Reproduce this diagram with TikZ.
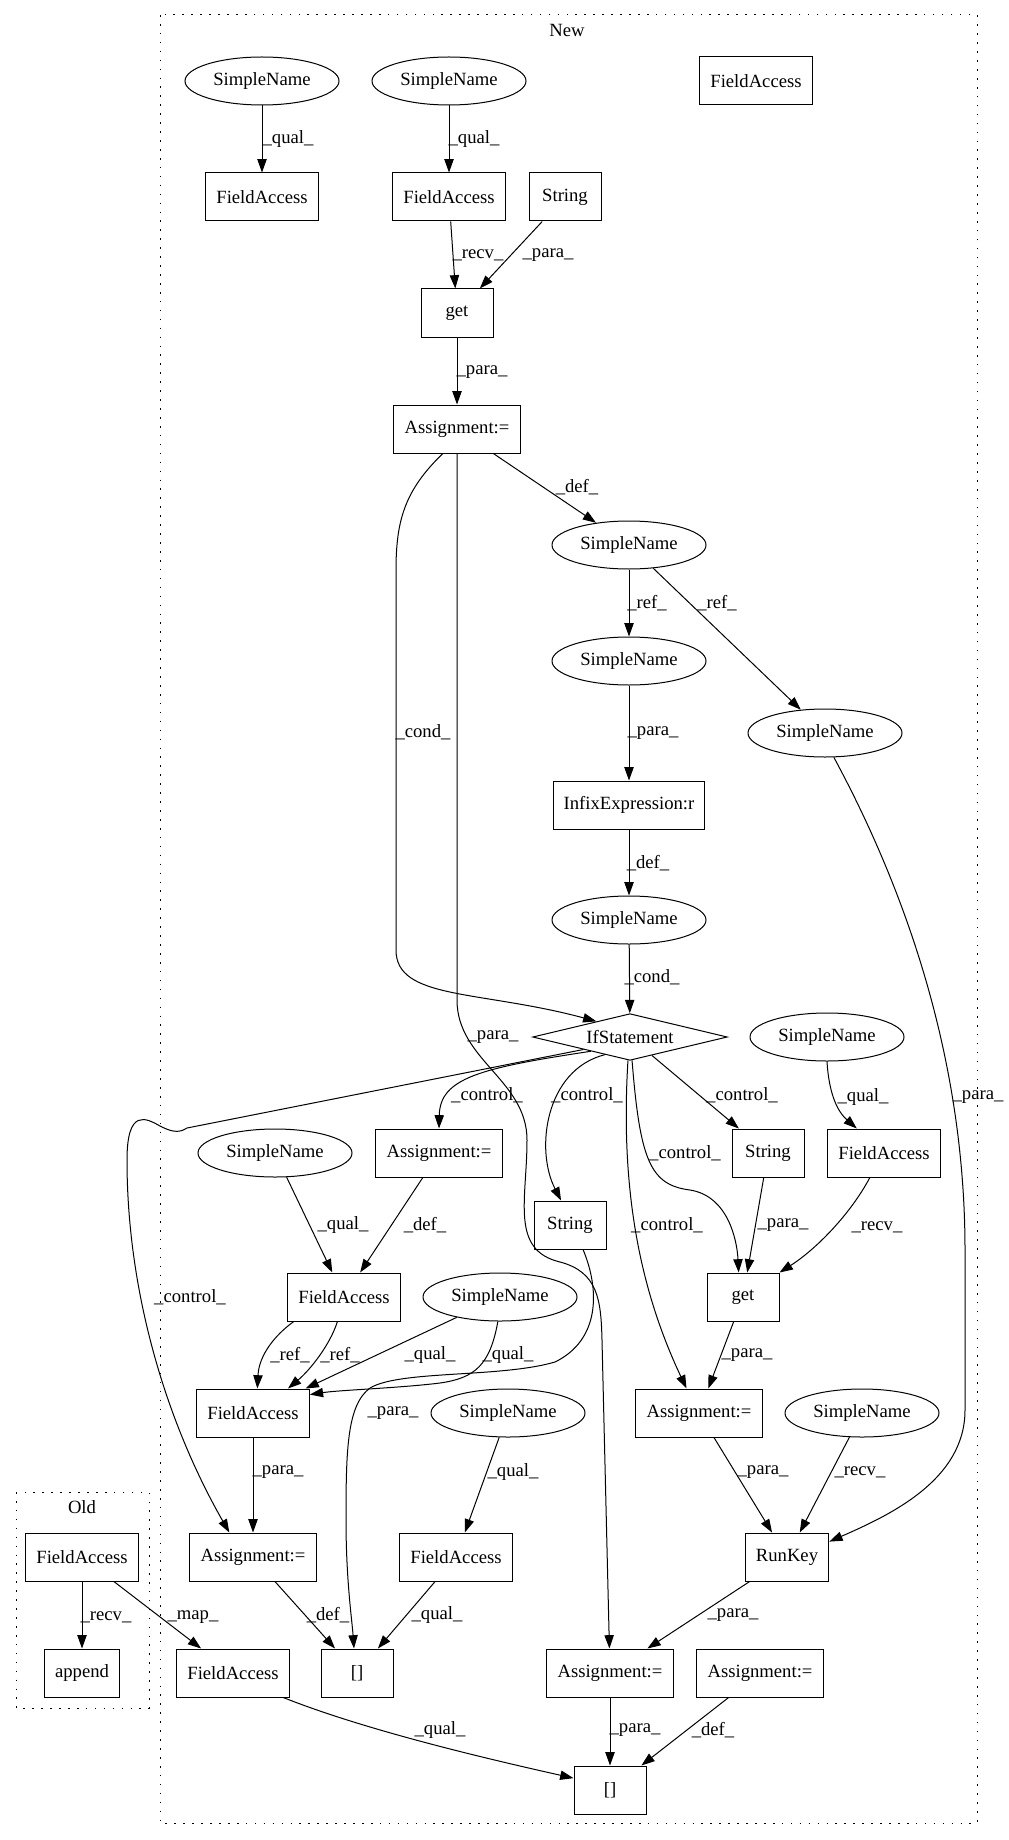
\documentclass[tikz,border=0pt]{standalone}
\usepackage{fontspec}
\setmainfont{Liberation Serif}
\usetikzlibrary{arrows.meta,shapes.geometric}
\tikzset{
  every node/.append style={font=\fontsize{14}{16}\selectfont},
  box/.style={draw, line width=0.75pt, rectangle, minimum width=54pt, minimum height=36pt,
              inner xsep=8pt, inner ysep=0pt},
  oval/.style={draw, line width=0.75pt, ellipse, minimum width=115.5pt, minimum height=36pt, inner sep=0pt},
  decide/.style={draw, line width=0.75pt, diamond, aspect=4, minimum width=146pt, minimum height=35pt, inner sep=0pt},
  arrow/.style={-{Triangle[length=10pt,width=7pt]}, line width=0.75pt},
  tag/.style={inner sep=0pt},
  cluster/.style={draw, line width=0.75pt, dash pattern=on 1.2pt off 5.5pt},
}
\begin{document}
\begin{tikzpicture}[x=0.75pt, y=-0.75pt]
  \useasboundingbox (0,0) rectangle (1008,1840);
  \draw[cluster] (160,15) rectangle (977,1823);
  \node[tag] (newlbl) at (567,30) {New};
  \draw[cluster] (16,1492) rectangle (149,1708);
  \node[tag] (oldlbl) at (82,1507) {Old};

  \node[oval] (snA) at (262,81) {SimpleName};
  \node[oval] (snB) at (449,81) {SimpleName};
  \node[box] (faTop) at (756,81) {FieldAccess};
  \node[box] (faA) at (262,197) {FieldAccess};
  \node[box] (faB) at (449,197) {FieldAccess};
  \node[box] (strA) at (565,197) {String};
  \node[box] (getA) at (457,313) {get};
  \node[box] (asgA) at (457,429) {Assignment:=};
  \node[oval] (snDef) at (629,545) {SimpleName};
  \node[oval] (snRefL) at (629,661) {SimpleName};
  \node[oval] (snRefR) at (825,733) {SimpleName};
  \node[box] (infix) at (629,805) {InfixExpression:r};
  \node[oval] (snCond) at (629,920) {SimpleName};
  \node[decide] (ifSt) at (630,1037) {IfStatement};
  \node[oval] (snR) at (827,1037) {SimpleName};
  \node[oval] (snL) at (275,1153) {SimpleName};
  \node[box] (asgC) at (439,1153) {Assignment:=};
  \node[box] (strR) at (768,1153) {String};
  \node[box] (faR) at (884,1153) {FieldAccess};
  \node[box] (strM) at (570,1225) {String};
  \node[box] (faM) at (344,1297) {FieldAccess};
  \node[oval] (snQ) at (500,1297) {SimpleName};
  \node[box] (getB) at (743,1297) {get};
  \node[box] (faX) at (253,1413) {FieldAccess};
  \node[oval] (snQ2) at (508,1413) {SimpleName};
  \node[box] (asgD) at (699,1413) {Assignment:=};
  \node[oval] (snK) at (862,1413) {SimpleName};
  \node[box] (asgL) at (253,1557) {Assignment:=};
  \node[box] (faQ) at (456,1557) {FieldAccess};
  \node[box] (runKey) at (787,1557) {RunKey};
  \node[box] (faMap) at (233,1673) {FieldAccess};
  \node[box] (brL) at (357,1673) {[]};
  \node[box] (asgB) at (610,1673) {Assignment:=};
  \node[box] (asgE) at (760,1673) {Assignment:=};
  \node[box] (brB) at (610,1790) {[]};
  \node[box] (oldFa) at (82,1557) {FieldAccess};
  \node[box] (append) at (82,1673) {append};

  \draw[arrow] (snA) -- (faA) node[tag] at (288,139) {\_qual\_};
  \draw[arrow] (snB) -- (faB) node[tag] at (474,139) {\_qual\_};
  \draw[arrow] (faB) -- (getA) node[tag] at (478,255) {\_recv\_};
  \draw[arrow] (strA) -- (getA) node[tag] at (548,255) {\_para\_};
  \draw[arrow] (getA) -- (asgA) node[tag] at (482,372) {\_para\_};
  \draw[arrow] (asgA) -- (snDef) node[tag] at (577,487) {\_def\_};
  \draw[arrow] (asgA.240) .. controls (405,490) and (396,520) .. (396,570) -- (396,950)
    .. controls (396,1000) and (480,990) .. (ifSt.155) node[tag] at (423,732) {\_cond\_};
  \draw[arrow] (asgA) -- (457,1000) .. controls (457,1060) and (527,1080) .. (527,1140)
    .. controls (527,1200) and (510,1250) .. (560,1262) .. controls (598,1272) and (601,1300) .. (602,1340)
    -- (asgB) node[tag] at (493,1037) {\_para\_};
  \draw[arrow] (snDef) -- (snRefL) node[tag] at (647,603) {\_ref\_};
  \draw[arrow] (snDef) -- (snRefR) node[tag] at (717,603) {\_ref\_};
  \draw[arrow] (snRefL) -- (infix) node[tag] at (653,733) {\_para\_};
  \draw[arrow] (infix) -- (snCond) node[tag] at (648,863) {\_def\_};
  \draw[arrow] (snCond) -- (ifSt) node[tag] at (652,977) {\_cond\_};
  \draw[arrow] (snRefR.-70) .. controls (900,880) and (965,1050) .. (965,1250) -- (965,1410)
    .. controls (965,1480) and (890,1515) .. (runKey.20) node[tag] at (978,1097) {\_para\_};
  \draw[arrow] (ifSt.200) .. controls (480,1068) and (440,1078) .. (asgC.north) node[tag] at (487,1095) {\_control\_};
  \draw[arrow] (ifSt.215) .. controls (545,1070) and (535,1150) .. (strM.110) node[tag] at (587,1095) {\_control\_};
  \draw[arrow] (ifSt) -- (strR) node[tag] at (742,1095) {\_control\_};
  \draw[arrow] (ifSt.-85) .. controls (640,1160) and (650,1185) .. (690,1190)
    .. controls (728,1196) and (737,1240) .. (getB.100) node[tag] at (685,1153) {\_control\_};
  \draw[arrow] (ifSt.-95) .. controls (620,1190) and (640,1290) .. (asgD.117) node[tag] at (667,1225) {\_control\_};
  \draw[arrow] (ifSt.195) -- (187,1128) .. controls (178,1134) and (170,1131) .. (160,1126)
    .. controls (146,1118) and (127,1108) .. (127,1160) .. controls (127,1290) and (165,1420) .. (asgL.134)
    node[tag] at (190,1297) {\_control\_};
  \draw[arrow] (snR.south) .. controls (829,1095) and (838,1112) .. (faR.138) node[tag] at (863,1097) {\_qual\_};
  \draw[arrow] (faR.240) .. controls (850,1215) and (815,1250) .. (getB.north east) node[tag] at (877,1227) {\_recv\_};
  \draw[arrow] (strR) -- (getB) node[tag] at (783,1225) {\_para\_};
  \draw[arrow] (getB) -- (asgD) node[tag] at (747,1355) {\_para\_};
  \draw[arrow] (snL) -- (faM) node[tag] at (343,1225) {\_qual\_};
  \draw[arrow] (asgC) -- (faM) node[tag] at (425,1225) {\_def\_};
  \draw[arrow] (faM.206) .. controls (275,1335) and (259,1355) .. (faX.80) node[tag] at (290,1355) {\_ref\_};
  \draw[arrow] (faM.255) .. controls (330,1345) and (310,1370) .. (faX.35) node[tag] at (340,1355) {\_ref\_};
  \draw[arrow] (snQ) -- (faX.25) node[tag] at (430,1355) {\_qual\_};
  \draw[arrow] (snQ.265) .. controls (490,1365) and (475,1378) .. (440,1383)
    .. controls (400,1388) and (340,1390) .. (faX.18) node[tag] at (508,1355) {\_qual\_};
  \draw[arrow] (strM.-62) .. controls (600,1290) and (600,1340) .. (555,1362)
    .. controls (500,1378) and (400,1370) .. (370,1388) .. controls (347,1405) and (346,1450) .. (346,1520)
    .. controls (346,1580) and (352,1620) .. (brL.97) node[tag] at (393,1413) {\_para\_};
  \draw[arrow] (faX) -- (asgL) node[tag] at (278,1472) {\_para\_};
  \draw[arrow] (snQ2) -- (faQ) node[tag] at (513,1472) {\_qual\_};
  \draw[arrow] (asgD) -- (runKey) node[tag] at (763,1472) {\_para\_};
  \draw[arrow] (snK) -- (runKey) node[tag] at (860,1472) {\_recv\_};
  \draw[arrow] (runKey) -- (asgB) node[tag] at (733,1615) {\_para\_};
  \draw[arrow] (asgL) -- (brL) node[tag] at (328,1615) {\_def\_};
  \draw[arrow] (faQ) -- (brL) node[tag] at (437,1615) {\_qual\_};
  \draw[arrow] (asgB) -- (brB) node[tag] at (635,1730) {\_para\_};
  \draw[arrow] (asgE) -- (brB) node[tag] at (713,1730) {\_def\_};
  \draw[arrow] (faMap.-26) .. controls (360,1728) and (470,1755) .. (brB.162) node[tag] at (440,1730) {\_qual\_};
  \draw[arrow] (oldFa) -- (append) node[tag] at (106,1617) {\_recv\_};
  \draw[arrow] (oldFa) -- (faMap) node[tag] at (193,1617) {\_map\_};
\end{tikzpicture}
\end{document}
